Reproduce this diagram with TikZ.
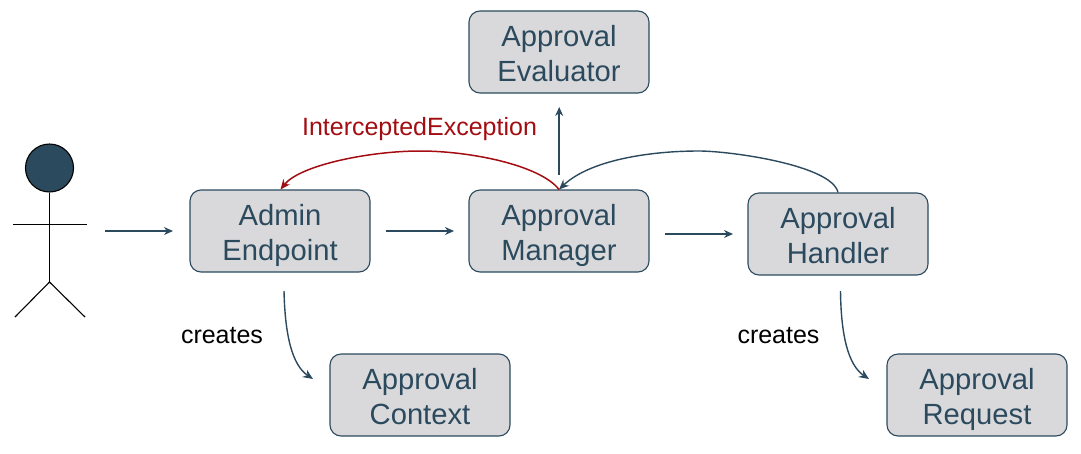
\documentclass[tikz,border=0pt]{standalone}
\usepackage{fontspec}
\setmainfont{Liberation Sans}
\usetikzlibrary{arrows.meta}
\definecolor{slate}{HTML}{2C4A5E}
\definecolor{boxfill}{HTML}{D9D9DB}
\definecolor{darkred}{HTML}{A30D12}
\newcommand{\twolines}[2]{\rule{0pt}{32pt}#1\\#2\rule[-9pt]{0pt}{9pt}}
\tikzset{
 x=1pt,y=-1pt,
 boxnode/.style={draw=slate,fill=boxfill,line width=1.1pt,rounded corners=11pt,minimum width=180pt,minimum height=82pt,inner sep=0pt,align=center,text=slate,font=\fontsize{29.2}{35}\selectfont},
 conn/.style={draw=slate,line width=1.5pt,-{Stealth[length=9pt,width=8pt]}},
 thin conn/.style={draw=slate,line width=1.4pt,-{Stealth[length=10pt,width=8.5pt]}},
 redconn/.style={draw=darkred,line width=1.5pt,-{Stealth[length=10pt,width=8.5pt]}},
 limb/.style={draw=black,line width=1.1pt},
 lbl/.style={font=\fontsize{25}{28}\selectfont,inner sep=0pt}
}
\begin{document}
\begin{tikzpicture}
\useasboundingbox (0,0) rectangle (1081,453);
\fill[white] (0,0) rectangle (1081,453);
% actor
\node[circle,draw=black,fill=slate,line width=1.1pt,minimum size=48pt,inner sep=0pt] (head) at (49.5,168) {};
\coordinate (hip) at (49.5,282);
\coordinate (handl) at (13,224.8);
\coordinate (handr) at (87,224.8);
\coordinate (footl) at (15,317);
\coordinate (footr) at (85,317);
\draw[limb] (head.south) -- (hip);
\draw[limb] (handl) -- (handr);
\draw[limb] (footl) -- (hip) -- (footr);
% boxes
\node[boxnode] (endpoint) at (280,231) {\twolines{Admin}{Endpoint}};
\node[boxnode] (manager) at (559,231) {\twolines{Approval}{Manager}};
\node[boxnode] (handler) at (838,234) {\twolines{Approval}{Handler}};
\node[boxnode] (evaluator) at (559,52) {\twolines{Approval}{Evaluator}};
\node[boxnode] (context) at (420,395) {\twolines{Approval}{Context}};
\node[boxnode] (request) at (977,395) {\twolines{Approval}{Request}};
% free ends
\coordinate (a1) at (105,231);
\coordinate (a2) at (173,231);
\coordinate (b1) at (386,231);
\coordinate (b2) at (454,231);
\coordinate (c1) at (665,234);
\coordinate (c2) at (733,234);
\coordinate (d1) at (559.2,175);
\coordinate (d2) at (559.2,107);
\coordinate (e1) at (284,291);
\coordinate (e2) at (313,379);
\coordinate (f1) at (840.5,291);
\coordinate (f2) at (869,379);
\coordinate (mtop) at (559,189.5);
\coordinate (etop) at (280.5,189.5);
\coordinate (htop) at (838,192.5);
% connectors
\draw[conn] (a1) -- (a2);
\draw[conn] (b1) -- (b2);
\draw[conn] (c1) -- (c2);
\draw[conn] (d1) -- (d2);
\draw[thin conn] (e1) .. controls (285,335) and (292,365) .. (e2);
\draw[thin conn] (f1) .. controls (841,335) and (848,365) .. (f2);
\draw[thin conn] (htop) .. controls (832,165) and (730,151) .. (699,151) .. controls (650,151) and (590,160) .. (mtop);
\draw[redconn] (mtop) .. controls (540,165) and (470,151) .. (420,151) .. controls (370,151) and (300,165) .. (etop);
% labels
\node[lbl,text=darkred] (exc) at (419.5,129) {InterceptedException};
\node[lbl,text=black] (cr1) at (222,336) {creates};
\node[lbl,text=black] (cr2) at (778.5,336) {creates};
\end{tikzpicture}
\end{document}
